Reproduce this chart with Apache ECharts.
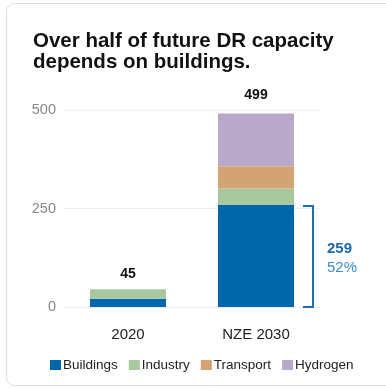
<!DOCTYPE html>
<html><head><meta charset="utf-8">
<script src="https://cdn.jsdelivr.net/npm/echarts@6/dist/echarts.min.js"></script>
<style>html,body{margin:0;padding:0;background:#fff;}#c{width:386px;height:388px;}</style>
</head><body><div id="c"></div>
<script>
const categories = ['2020', 'NZE 2030'];
const buildings = [21, 259];
const industry = [24, 42];
const transport = [0, 56];
const hydrogen = [0, 134];
const totals = [45, 499];
const yTicks = [0, 250, 500];
const bracketValue = '259';
const bracketShare = '52%';

(function(){
const colors = {Buildings:'#0067ab', Industry:'#a8c8a0', Transport:'#d4a373', Hydrogen:'#b8a8c9'};
const chart = echarts.init(document.getElementById('c'), null, {renderer:'canvas'});
const font = 'Liberation Sans, Arial, Helvetica, sans-serif';
function bar(name, data){
  return {name, type:'bar', stack:'s', data, barWidth:76, itemStyle:{color:colors[name]}, emphasis:{disabled:true}};
}
chart.setOption({
  animation:false,
  textStyle:{fontFamily:font},
  title:{text:'Over half of future DR capacity\ndepends on buildings.', left:28, top:26,
    textStyle:{fontSize:20.5, fontWeight:'bold', color:'#111', lineHeight:21, fontFamily:font}},
  grid:{left:64, right:66, top:110, bottom:81},
  legend:{data:['Buildings','Industry','Transport','Hydrogen'], left:45, top:353, itemWidth:11, itemHeight:10, itemGap:11,
    icon:'rect', textStyle:{fontSize:13.5, color:'#222', padding:[0,0,0,-3]}},
  xAxis:{type:'category', data:categories, axisLine:{show:false}, axisTick:{show:false},
    axisLabel:{fontSize:15, color:'#222', margin:20}},
  yAxis:{type:'value', min:0, max:500, interval:250, axisLine:{show:false}, axisTick:{show:false},
    axisLabel:{fontSize:14.5, color:'#888', margin:8, formatter:v=>yTicks.includes(v)?String(v):''},
    splitLine:{lineStyle:{color:'#eeeeee', width:1}}},
  series:[
    bar('Buildings', buildings),
    bar('Industry', industry),
    bar('Transport', transport),
    bar('Hydrogen', hydrogen),
    {name:'Total', type:'scatter', data:totals, symbolSize:0, silent:true, itemStyle:{opacity:1},
     label:{show:true, position:'top', distance:8, fontSize:14, fontWeight:'bold', color:'#111', opacity:1,
       formatter:p=>String(totals[p.dataIndex])}}
  ]
});
const pTop = chart.convertToPixel({gridIndex:0}, [1, buildings[1]]);
const pBase = chart.convertToPixel({gridIndex:0}, [1, 0]);
const bx = pBase[0] + 38 + 19;
const by0 = pTop[1] + 1, by1 = pBase[1];
chart.setOption({graphic:[
  {type:'rect', shape:{x:6.5, y:3.5, width:420, height:382, r:8}, style:{fill:'none', stroke:'#dddddd', lineWidth:1}, z:-10},
  {type:'polyline', shape:{points:[[bx-10,by0],[bx,by0],[bx,by1],[bx-10,by1]]}, style:{stroke:'#1f6db3', lineWidth:2, fill:'none'}},
  {type:'text', x:bx+14, y:(by0+by1)/2-15, style:{text:bracketValue, font:'bold 15px '+font, fill:'#1a69ab'}},
  {type:'text', x:bx+14, y:(by0+by1)/2+4, style:{text:bracketShare, font:'15px '+font, fill:'#3a8ccc'}}
]});
})();
</script></body></html>
